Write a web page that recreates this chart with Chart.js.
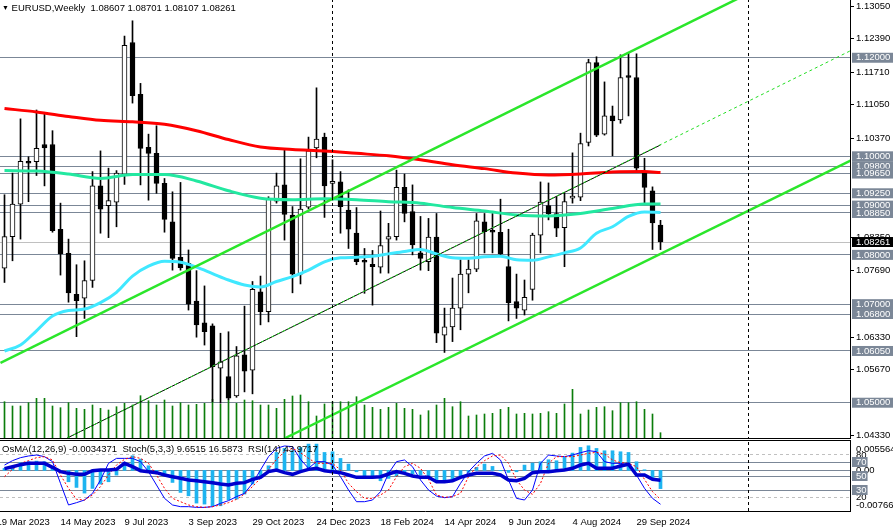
<!DOCTYPE html>
<html>
<head>
<meta charset="utf-8">
<title>EURUSD Weekly</title>
<script src="https://cdn.jsdelivr.net/npm/chart.js"></script>
<style>
  body { margin: 0; background: #fff; font-family: "Liberation Sans", Arial, sans-serif; }
  #wrap { position: relative; width: 893px; height: 529px; overflow: hidden; background: #fff; }
  #main { position: absolute; left: 0; top: 0; }
  #osc { position: absolute; left: 0; top: 440px; }
  .cap { position: absolute; font-size: 9.5px; color: #000; white-space: pre; line-height: 11px; }
  .tri { font-size: 7px; vertical-align: 1px; }
  .hline { position: absolute; left: 0; width: 851px; height: 1px; background: #000; }
</style>
</head>
<body>
<div id="wrap">
  <canvas id="main" width="893" height="445"></canvas>
  <canvas id="osc" width="893" height="89"></canvas>
  <div class="hline" style="top:438px"></div>
  <div class="hline" style="top:440px"></div>
  <div class="cap" style="left:2px; top:2px"><span class="tri">▼</span> EURUSD,Weekly  1.08607 1.08701 1.08107 1.08261</div>
  <div class="cap" style="left:2px; top:443px">OsMA(12,26,9) -0.0034371  Stoch(5,3,3) 9.6515 16.5873  RSI(14) 43.9717</div>
</div>

<script>
  // weekly candles, first bar = week of 26 Mar 2023
  const open  = [1.0773,1.0837,1.0903,1.0990,1.0989,1.1024,1.1024,1.0852,1.0803,1.0720,
                 1.0712,1.0748,1.0940,1.0900,1.0907,1.0964,1.1231,1.1126,1.1018,1.1006,
                 1.0945,1.0867,1.0795,1.0783,1.0706,1.0662,1.0656,1.0570,1.0553,1.0514,
                 1.0597,1.0566,1.0725,1.0685,1.0909,1.0942,1.0881,1.0761,1.0897,1.1017,
                 1.1039,1.0945,1.0948,1.0891,1.0844,1.0786,1.0781,1.0775,1.0832,1.0837,
                 1.0937,1.0888,1.0804,1.0786,1.0836,1.0637,1.0654,1.0692,1.0761,1.0771,
                 1.0867,1.0849,1.0846,1.0776,1.0705,1.0688,1.0730,1.0840,1.0900,1.0884,
                 1.0855,1.0915,1.0917,1.1028,1.1190,1.1045,1.1082,1.1074,1.1162,1.1160,
                 1.0966,1.0930,1.08607];
  const high  = [1.0922,1.0966,1.1076,1.0999,1.1094,1.1087,1.1052,1.0905,1.0832,1.0780,
                 1.0788,1.0969,1.1011,1.0976,1.0971,1.1244,1.1275,1.1148,1.1045,1.1062,
                 1.0955,1.0928,1.0947,1.0810,1.0768,1.0737,1.0660,1.0641,1.0644,1.0614,
                 1.0696,1.0746,1.0757,1.0918,1.0966,1.1013,1.0898,1.0995,1.1039,1.1139,
                 1.1047,1.0993,1.0969,1.0932,1.0896,1.0813,1.0809,1.0889,1.0864,1.0972,
                 1.0964,1.0942,1.0878,1.0874,1.0884,1.0692,1.0753,1.0790,1.0790,1.0884,
                 1.0884,1.0884,1.0913,1.0852,1.0761,1.0749,1.0844,1.0948,1.0946,1.0918,
                 1.0925,1.1007,1.1047,1.1197,1.1202,1.1151,1.1102,1.1206,1.1209,1.1208,
                 1.0996,1.0938,1.08701];
  const low   = [1.0744,1.0788,1.0832,1.0908,1.0961,1.0940,1.0846,1.0759,1.0704,1.0634,
                 1.0671,1.0734,1.0844,1.0835,1.0857,1.0943,1.1108,1.0942,1.0911,1.0925,
                 1.0846,1.0769,1.0769,1.0688,1.0633,1.0617,1.0502,1.0499,1.0506,1.0511,
                 1.0522,1.0518,1.0658,1.0664,1.0905,1.0830,1.0723,1.0741,1.0893,1.0997,
                 1.0876,1.0911,1.0844,1.0813,1.0780,1.0722,1.0698,1.0763,1.0763,1.0830,
                 1.0867,1.0800,1.0769,1.0768,1.0622,1.0602,1.0624,1.0648,1.0723,1.0766,
                 1.0804,1.0804,1.0800,1.0666,1.0671,1.0678,1.0708,1.0804,1.0871,1.0837,
                 1.0776,1.0905,1.0910,1.1021,1.1040,1.1043,1.1001,1.1067,1.1082,1.0969,
                 1.0905,1.0811,1.08107];
  const close = [1.0837,1.0903,1.0990,1.0986,1.1016,1.1017,1.0849,1.0802,1.0723,1.0707,
                 1.0748,1.0940,1.0893,1.0910,1.0966,1.1225,1.1123,1.1016,1.1006,1.0945,
                 1.0872,1.0793,1.0774,1.0700,1.0658,1.0644,1.0573,1.0583,1.0509,1.0595,
                 1.0564,1.0730,1.0685,1.0913,1.0940,1.0882,1.0761,1.0893,1.1011,1.1035,
                 1.0940,1.0948,1.0898,1.0852,1.0786,1.0785,1.0776,1.0819,1.0837,1.0937,
                 1.0884,1.0820,1.0793,1.0836,1.0641,1.0654,1.0692,1.0761,1.0771,1.0869,
                 1.0847,1.0846,1.0802,1.0703,1.0692,1.0714,1.0840,1.0907,1.0883,1.0854,
                 1.0908,1.0917,1.1026,1.1190,1.1043,1.1082,1.1072,1.1160,1.1160,1.0976,
                 1.0937,1.0865,1.08261];
  const volume = [363,320,320,353,397,397,320,303,353,297,287,330,297,280,313,347,330,423,373,330,
                  380,320,353,330,337,347,387,337,380,347,380,373,330,330,297,387,420,430,363,220,
                  340,363,363,363,413,330,307,287,307,347,297,287,230,273,330,397,313,363,220,230,
                  240,247,287,307,240,247,240,247,263,247,340,487,240,280,307,313,273,353,353,363,
                  287,240,53];

  // moving averages
  const maSlowIdx = [0,4,8,12,16,20,24,28,32,36,40,44,48,52,56,60,64,68,72,76,80,82];
  const maRed  = [1.1097,1.1090,1.1081,1.1073,1.1070,1.1065,1.1052,1.1034,1.1019,1.1014,1.1011,
                  1.1006,1.1001,1.0993,1.0983,1.0975,1.0966,1.0962,1.0964,1.0968,1.0969,1.0967];
  const maAqua = [1.0971,1.0970,1.0964,1.0955,1.0963,1.0963,1.0950,1.0930,1.0915,1.0912,1.0914,
                  1.0912,1.0908,1.0905,1.0896,1.0889,1.0881,1.0879,1.0884,1.0894,1.0903,1.0903];
  const maFastIdx = [0,2,4,6,8,10,12,14,16,18,20,22,24,26,28,30,32,34,36,38,40,
                     42,44,46,48,50,52,54,56,58,60,62,64,66,68,70,72,74,76,78,80,82];
  const maCyan = [1.0605,1.0617,1.0646,1.0676,1.0687,1.0690,1.0703,1.0724,1.0757,1.0777,1.0787,
                  1.0785,1.0775,1.0762,1.0749,1.0739,1.0735,1.0746,1.0756,1.0769,1.0786,
                  1.0794,1.0795,1.0797,1.0802,1.0807,1.0811,1.0802,1.0794,1.0793,1.0796,
                  1.0797,1.0790,1.0789,1.0796,1.0804,1.0814,1.0844,1.0857,1.0878,1.0887,1.0886];

  // trend lines: [bar index, price] end points
  const channelUpper = [[-0.5, 1.05806], [105.75, 1.14329]];
  const channelLower = [[35.1, 1.04284], [105.75, 1.09913]];
  const midLine = [[7.84, 1.04284], [82, 1.10230]];
  const midRay  = [[7.84, 1.04284], [105.75, 1.12143]];
  const separators = [41, 93];

  const priceTicks = [1.1305,1.1239,1.1171,1.1105,1.1037,1.0835,1.0769,1.0633,1.0567,1.0433];
  const levels = [1.1200,1.1000,1.0980,1.0965,1.0925,1.0900,1.0885,1.0800,1.0700,1.0680,1.0605,1.0500];
  const bid = 1.08261;

  // oscillators
  const osma = [0.00038,0.00076,0.00151,0.00164,0.00176,0.00164,0.00076,-0.00025,-0.00214,-0.00321,
                -0.00428,-0.00340,-0.00258,-0.00214,-0.00088,0.00151,0.00277,0.00214,0.00088,-0.00050,
                -0.00088,-0.00227,-0.00416,-0.00479,-0.00617,-0.00636,-0.00668,-0.00668,-0.00554,-0.00542,
                -0.00447,-0.00258,-0.00101,0.00088,0.00340,0.00416,0.00372,0.00435,0.00498,0.00498,
                0.00340,0.00353,0.00227,0.00120,-0.00025,-0.00101,-0.00120,-0.00195,-0.00151,-0.00101,
                -0.00025,-0.00069,-0.00088,-0.00101,-0.00195,-0.00227,-0.00195,-0.00132,-0.00038,0.00057,
                0.00120,0.00076,-0.00006,-0.00038,-0.00025,0.00101,0.00139,0.00164,0.00202,0.00183,
                0.00246,0.00328,0.00435,0.00466,0.00416,0.00372,0.00372,0.00353,0.00340,0.00164,
                0.00013,-0.00164,-0.0034371];
  const stochMain = [65.7,71.9,76.2,78.6,80.0,77.6,70.5,39.5,8.6,11.9,
                     15.7,25.2,44.3,68.1,75.2,75.2,75.2,70.5,56.2,37.1,
                     18.1,8.6,6.2,6.2,5.2,5.2,6.2,10.9,14.8,20.5,
                     25.2,39.5,58.6,77.6,89.5,92.9,91.9,73.8,61.0,70.5,
                     70.5,65.7,49.0,30.0,13.3,13.3,15.7,27.6,53.8,70.5,
                     72.9,63.3,44.3,30.0,21.4,19.0,20.5,39.5,56.2,68.1,
                     78.6,82.4,72.9,44.3,18.1,15.7,30.0,68.1,80.0,78.6,
                     77.6,80.0,83.3,86.2,84.8,70.5,68.1,68.1,65.7,51.4,
                     32.4,18.1,9.65];
  const stochSignal = [49.0,59.5,68.1,71.9,76.2,77.6,72.9,51.4,32.4,16.7,
                       15.7,22.9,34.8,51.4,65.7,73.8,77.6,75.2,68.1,51.4,
                       32.4,18.1,13.3,8.6,6.2,5.2,6.2,8.6,11.9,16.7,
                       24.3,34.8,46.7,59.5,73.8,84.8,89.5,83.3,75.2,68.1,
                       68.1,68.1,58.6,39.5,27.6,18.1,18.1,22.9,30.0,49.0,
                       63.3,68.1,61.0,45.2,22.9,19.5,20.5,25.2,49.0,63.3,
                       71.9,78.6,80.0,68.1,44.3,30.0,23.8,39.5,68.1,77.6,
                       77.6,77.6,80.0,82.4,83.8,81.4,72.9,69.0,68.1,63.3,
                       45.2,27.6,16.59];
  const rsi = [60.5,63.3,66.2,68.1,68.1,68.1,62.4,56.2,53.8,52.4,
               52.4,57.6,58.6,58.6,59.5,68.1,63.3,57.6,56.2,54.8,
               51.4,49.0,46.7,44.3,43.3,41.9,40.5,38.6,37.1,39.5,
               40.5,45.2,48.1,56.2,58.6,54.8,52.4,56.2,59.5,61.0,
               57.6,56.2,54.8,51.4,48.1,48.1,48.1,49.0,52.9,56.2,
               53.8,50.0,48.1,48.1,41.9,41.9,43.3,48.1,51.4,53.8,
               53.8,53.8,51.4,44.3,43.3,46.7,54.8,56.2,56.2,57.6,
               58.6,61.0,65.7,68.1,61.0,61.0,61.0,64.3,66.7,51.4,
               51.4,45.2,43.97];

  const oscTicks  = [88.6, 80, 57.94, 20, 8.6, 70, 50, 30];
  const oscLabels = ['0.005564', '80', '0.00', '20', '-0.007666', '70', '50', '30'];

  const dateTicks  = [-1, 7, 15, 23, 31, 39, 47, 55, 63, 71, 79];
  const dateLabels = ['19 Mar 2023','14 May 2023','9 Jul 2023','3 Sep 2023','29 Oct 2023','24 Dec 2023',
                      '18 Feb 2024','14 Apr 2024','9 Jun 2024','4 Aug 2024','29 Sep 2024'];

  const xMin = -0.5625, xMax = 105.6875;
  const font = { family: 'Liberation Sans', size: 9.5, lineHeight: 1.05 };
  const boxGray = '#7b8797';
  const clear = 'rgba(0,0,0,0)';

  const pts = (xs, ys) => xs.map((x, i) => ({ x: x, y: ys[i] }));
  const seg = a => a.map(p => ({ x: p[0], y: p[1] }));
  const barIdx = open.map((o, i) => i);

  function lineSet(data, color, width, extra) {
    return Object.assign({ type: 'line', data: data, borderColor: color, borderWidth: width,
      pointRadius: 0, fill: false, yAxisID: 'y' }, extra || {});
  }

  // ---- main price panel ----
  const isLevel = c => c.tick && levels.includes(c.tick.value);
  const isBid = c => c.tick && c.tick.value === bid;

  new Chart(document.getElementById('main'), {
    type: 'bar',
    data: {
      datasets: [
        ...separators.map(s => lineSet([{ x: s, y: 1.04 }, { x: s, y: 1.14 }], '#000', 1, { borderDash: [3, 3], order: 0 })),
        lineSet(seg(midRay), '#22dd22', 1, { borderDash: [3, 3], order: 1 }),
        lineSet(seg(midLine), '#000', 1, { order: 2 }),
        lineSet(seg(channelUpper), '#2be62b', 2.5, { order: 1 }),
        lineSet(seg(channelLower), '#2be62b', 2.5, { order: 1 }),
        lineSet(pts(maSlowIdx, maRed), '#ff0000', 3, { cubicInterpolationMode: 'monotone', order: 3 }),
        lineSet(pts(maSlowIdx, maAqua), '#22e8a0', 3, { cubicInterpolationMode: 'monotone', order: 3 }),
        lineSet(pts(maFastIdx, maCyan), '#40e8ff', 3, { cubicInterpolationMode: 'monotone', order: 3 }),
        {
          type: 'bar', order: 4, grouped: false, barThickness: 5, minBarLength: 2, yAxisID: 'y',
          data: open.map((o, i) => ({ x: i, y: [o, close[i]] })),
          backgroundColor: open.map((o, i) => close[i] < o ? '#000' : '#fff'),
          borderColor: '#000', borderWidth: 1, borderSkipped: false
        },
        {
          type: 'bar', order: 5, grouped: false, barThickness: 1, yAxisID: 'y',
          data: open.map((o, i) => ({ x: i, y: [low[i], high[i]] })),
          backgroundColor: '#000'
        },
        {
          type: 'bar', order: 6, grouped: false, barThickness: 1, yAxisID: 'yv',
          data: volume.map((v, i) => ({ x: i, y: v })),
          backgroundColor: '#0b7d0b'
        }
      ]
    },
    options: {
      responsive: false,
      animation: false,
      layout: { padding: { top: 0, bottom: 7, left: 0, right: 0 } },
      plugins: { legend: { display: false }, tooltip: { enabled: false } },
      scales: {
        y: {
          type: 'linear', position: 'right', min: 1.04284, max: 1.13172, beginAtZero: false,
          afterBuildTicks: a => { a.ticks = priceTicks.concat(levels, [bid]).map(v => ({ value: v })); },
          afterFit: a => { a.width = 43; a.paddingTop = 0; a.paddingBottom = 0; },
          ticks: {
            autoSkip: false, padding: 2, font: font,
            callback: v => v.toFixed(5),
            color: c => (isLevel(c) || isBid(c)) ? '#fff' : '#000',
            showLabelBackdrop: c => isLevel(c) || isBid(c),
            backdropColor: c => isBid(c) ? '#000' : boxGray,
            backdropPadding: { left: 4, right: 8, top: 0, bottom: 0 }
          },
          grid: {
            tickLength: 4,
            color: c => isLevel(c) ? boxGray : (isBid(c) ? '#c0c0c0' : clear),
            tickColor: c => (isLevel(c) || isBid(c)) ? clear : '#000'
          },
          border: { display: true, color: '#000' }
        },
        x: { type: 'linear', min: xMin, max: xMax, offset: false, display: false },
        yv: { type: 'linear', display: false, min: 0, max: 4380 }
      }
    }
  });

  // ---- oscillator panel ----
  const oscLevel = c => c.tick && [70, 50, 30, 57.94].includes(c.tick.value);
  const oscBox = c => c.tick && [70, 50, 30].includes(c.tick.value);
  const oscDash = c => c.tick && [80, 20].includes(c.tick.value);

  new Chart(document.getElementById('osc'), {
    type: 'bar',
    data: {
      datasets: [
        ...separators.map(s => lineSet([{ x: s, y: 0 }, { x: s, y: 100 }], '#000', 1, { borderDash: [3, 3], order: 0 })),
        lineSet(pts(barIdx, rsi), '#0000cd', 3.5, { order: 1 }),
        lineSet(pts(barIdx, stochSignal), '#ff0000', 1, { borderDash: [2, 2], order: 2 }),
        lineSet(pts(barIdx, stochMain), '#0000ff', 1, { order: 2 }),
        {
          type: 'bar', order: 4, grouped: false, barThickness: 3, yAxisID: 'yo',
          data: osma.map((v, i) => ({ x: i, y: v })),
          backgroundColor: '#1eb4f0'
        }
      ]
    },
    options: {
      responsive: false,
      animation: false,
      layout: { padding: { top: 1, bottom: 0, left: 0, right: 0 } },
      plugins: { legend: { display: false }, tooltip: { enabled: false } },
      scales: {
        y: {
          type: 'linear', position: 'right', min: 0, max: 100,
          afterBuildTicks: a => { a.ticks = oscTicks.map(v => ({ value: v })); },
          afterFit: a => { a.width = 43; a.paddingTop = 0; a.paddingBottom = 0; },
          ticks: {
            autoSkip: false, padding: 2, font: font,
            callback: (v, k) => oscLabels[k],
            color: c => oscBox(c) ? '#fff' : '#000',
            showLabelBackdrop: c => oscBox(c),
            backdropColor: boxGray,
            backdropPadding: { left: 4, right: 1, top: 0, bottom: 0 }
          },
          grid: {
            tickLength: 4,
            color: c => oscLevel(c) ? boxGray : (oscDash(c) ? '#c0c0c0' : clear),
            tickColor: clear
          },
          border: { display: true, color: '#000', dash: c => oscDash(c) ? [3, 3] : [] }
        },
        x: {
          type: 'linear', position: 'bottom', min: xMin, max: xMax, offset: false,
          afterBuildTicks: a => { a.ticks = dateTicks.map(v => ({ value: v })); },
          afterFit: a => { a.height = 18; a.paddingLeft = 0; a.paddingRight = 0; },
          ticks: { autoSkip: false, maxRotation: 0, align: 'start', padding: -2, font: font, color: '#000',
                   callback: (v, k) => dateLabels[k] },
          grid: { display: false, offset: false },
          border: { display: true, color: '#000' }
        },
        yo: { type: 'linear', display: false, min: -0.007666, max: 0.005564 }
      }
    }
  });
</script>
</body>
</html>
